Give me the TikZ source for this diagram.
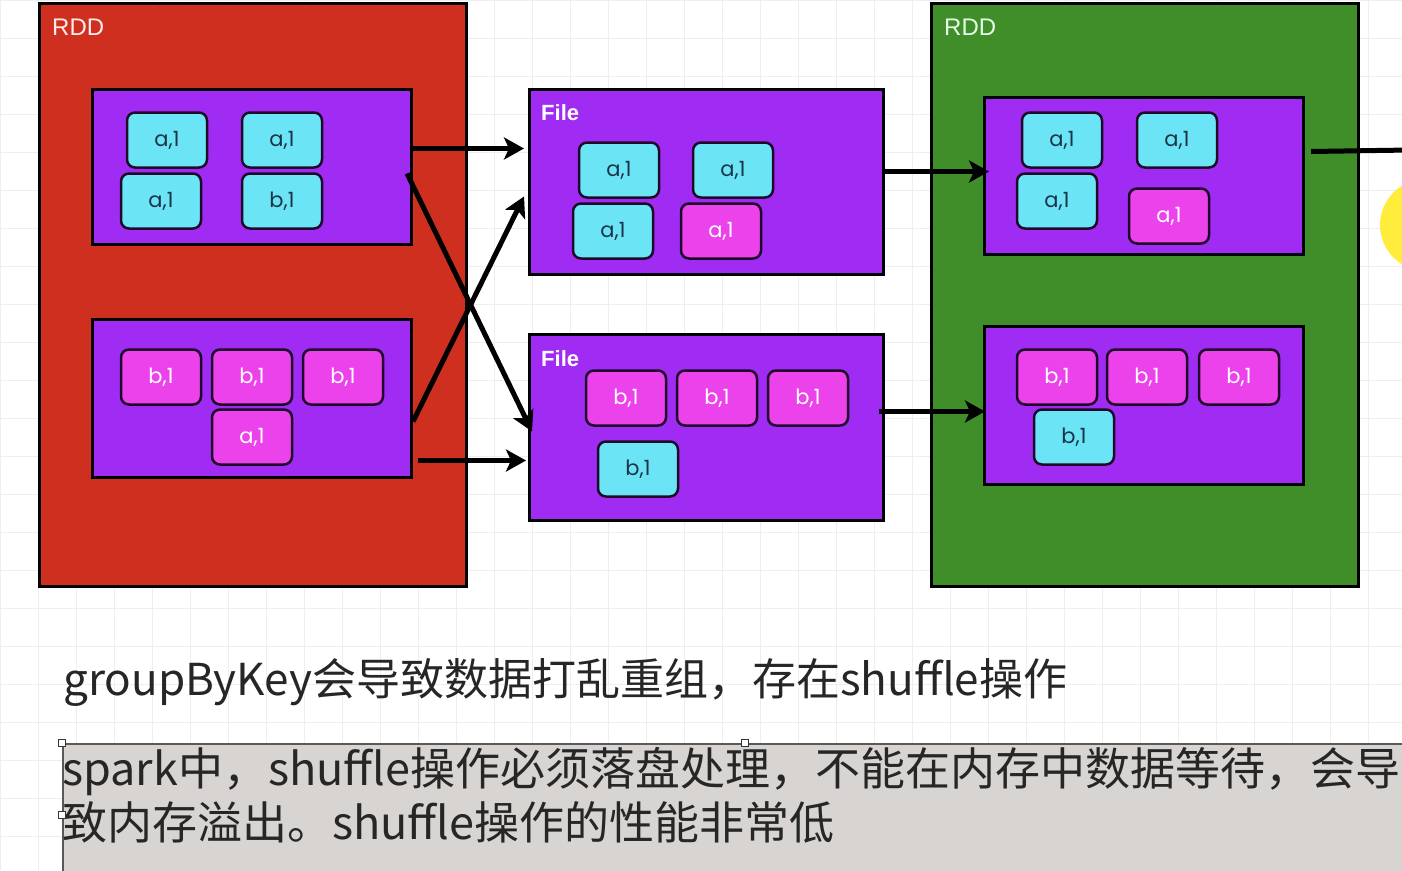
\documentclass[tikz,border=0pt]{standalone}
\usepackage{fontspec}
\setmainfont{Liberation Sans}
\newfontfamily\cjk{Noto Sans CJK SC}
\newfontfamily\pop{Poppins}
\usetikzlibrary{arrows.meta,calc}
\definecolor{rddred}{RGB}{207,47,30}
\definecolor{rddgreen}{RGB}{63,142,42}
\definecolor{purp}{RGB}{160,44,244}
\definecolor{cyanc}{RGB}{107,229,245}
\definecolor{pinkc}{RGB}{236,66,235}
\definecolor{navy}{RGB}{28,52,72}
\definecolor{cellline}{RGB}{30,10,40}
\definecolor{gridc}{RGB}{238,238,238}
\definecolor{notegray}{RGB}{216,212,210}
\definecolor{cursory}{RGB}{255,236,60}
\tikzset{
  outerbox/.style={draw=black, line width=3pt, anchor=north west, inner sep=0pt},
  partbox/.style={draw=black, line width=3pt, fill=purp, anchor=north west, inner sep=0pt},
  cellc/.style={draw=cellline, line width=2.5pt, rounded corners=8pt, fill=cyanc,
    minimum width=80pt, minimum height=55pt, inner sep=0pt,
    font=\pop\fontsize{21}{21}\selectfont, text=navy},
  cellp/.style={cellc, fill=pinkc, text=white},
  rddlabel/.style={anchor=base west, inner sep=0pt, font=\fontsize{24}{24}\selectfont},
  filelabel/.style={anchor=base west, inner sep=0pt, text=white, font=\bfseries\fontsize{22}{22}\selectfont},
  arr/.style={line width=5pt, -{Stealth[length=20pt,width=22pt,inset=5pt]}},
  handle/.style={draw=black!80, fill=white, line width=0.8pt, minimum size=7pt, inner sep=0pt}
}
\begin{document}
\begin{tikzpicture}[x=1pt,y=-1pt]
\clip (0,0) rectangle (1402,870);
\fill[white] (0,0) rectangle (1402,870);
% grid
\foreach \i in {0,...,37} {\draw[gridc, line width=1pt] (\i*38,0) -- (\i*38,870);}
\foreach \j in {0,...,23} {\draw[gridc, line width=1pt] (0,\j*38) -- (1402,\j*38);}

% left RDD
\node[outerbox, fill=rddred, minimum width=427pt, minimum height=583pt] (r1) at (38,2) {};
\node[rddlabel, text=white!92!red] (r1l) at (52,35) {RDD};
\node[partbox, minimum width=319pt, minimum height=155pt] (p1) at (91,88) {};
\node[partbox, minimum width=319pt, minimum height=158pt] (p2) at (91,318) {};
\node[cellc] (p1a) at (167,140) {a,1};
\node[cellc] (p1b) at (282,140) {a,1};
\node[cellc] (p1c) at (161,201) {a,1};
\node[cellc] (p1d) at (282,201) {b,1};
\node[cellp] (p2a) at (161,377) {b,1};
\node[cellp] (p2b) at (252,377) {b,1};
\node[cellp] (p2c) at (343,377) {b,1};
\node[cellp] (p2d) at (252,437) {a,1};

% files
\node[partbox, minimum width=354pt, minimum height=185pt] (f1) at (528,88) {};
\node[filelabel] (f1l) at (541,120) {File};
\node[cellc] (f1a) at (619,170) {a,1};
\node[cellc] (f1b) at (733,170) {a,1};
\node[cellc] (f1c) at (613,231) {a,1};
\node[cellp] (f1d) at (721,231) {a,1};
\node[partbox, minimum width=354pt, minimum height=186pt] (f2) at (528,333) {};
\node[filelabel] (f2l) at (541,366) {File};
\node[cellp] (f2a) at (626,398) {b,1};
\node[cellp] (f2b) at (717,398) {b,1};
\node[cellp] (f2c) at (808,398) {b,1};
\node[cellc] (f2d) at (638,469) {b,1};

% right RDD
\node[outerbox, fill=rddgreen, minimum width=427pt, minimum height=583pt] (r2) at (930,2) {};
\node[rddlabel, text=white!90!green] (r2l) at (944,35) {RDD};
\node[partbox, minimum width=319pt, minimum height=157pt] (g1) at (983,96) {};
\node[partbox, minimum width=319pt, minimum height=158pt] (g2) at (983,325) {};
\node[cellc] (g1a) at (1062,140) {a,1};
\node[cellc] (g1b) at (1177,140) {a,1};
\node[cellc] (g1c) at (1057,201) {a,1};
\node[cellp] (g1d) at (1169,216) {a,1};
\node[cellp] (g2a) at (1057,377) {b,1};
\node[cellp] (g2b) at (1147,377) {b,1};
\node[cellp] (g2c) at (1239,377) {b,1};
\node[cellc] (g2d) at (1074,437) {b,1};

% cursor highlight
\node[circle, fill=cursory, minimum size=92pt, inner sep=0pt] (cursor) at (1426,225) {};

% connectors
\draw[arr] ([yshift=18.5pt]p1.east) -- ([yshift=33.5pt,xshift=-4pt]f1.west);
\draw[arr] ([yshift=-6.5pt,xshift=-6pt]p1.east) -- ([yshift=-4pt,xshift=4pt]f2.west);
\draw[arr] ([yshift=-23pt]p2.east) -- ([yshift=-14.5pt,xshift=-4pt]f1.west);
\draw[arr] ([yshift=-62pt,xshift=5pt]p2.east) -- ([yshift=-33pt,xshift=-2pt]f2.west);
\draw[arr] ([yshift=10.5pt]f1.east) -- ([yshift=4.5pt,xshift=6pt]g1.west);
\draw[arr] ([yshift=16pt,xshift=-6pt]f2.east) -- ([yshift=-6pt,xshift=2pt]g2.west);
\coordinate (exit) at (1410,150);
\draw[line width=5pt] ([yshift=24.5pt,xshift=6pt]g1.east) -- (exit);

% text
\node[anchor=base west, inner sep=0pt, font=\cjk\fontsize{44}{44}\selectfont, text=black!85] (t1) at (63,695) {groupByKey会导致数据打乱重组，存在shuffle操作};
\node[draw=black!65, line width=1.5pt, fill=notegray, anchor=north west, minimum width=1360pt, minimum height=140pt, inner sep=0pt] (note) at (62,743) {};
\node[anchor=base west, inner sep=0pt, font=\cjk\fontsize{45}{45}\selectfont, text=black!85] (n1) at (62,785) {spark中，shuffle操作必须落盘处理，不能在内存中数据等待，会导};
\node[anchor=base west, inner sep=0pt, font=\cjk\fontsize{45}{45}\selectfont, text=black!85] (n2) at (62,839) {致内存溢出。shuffle操作的性能非常低};
\node[handle] (h1) at (62,743) {};
\node[handle] (h2) at (745,743) {};
\node[handle] (h3) at (62,815) {};
\end{tikzpicture}
\end{document}
